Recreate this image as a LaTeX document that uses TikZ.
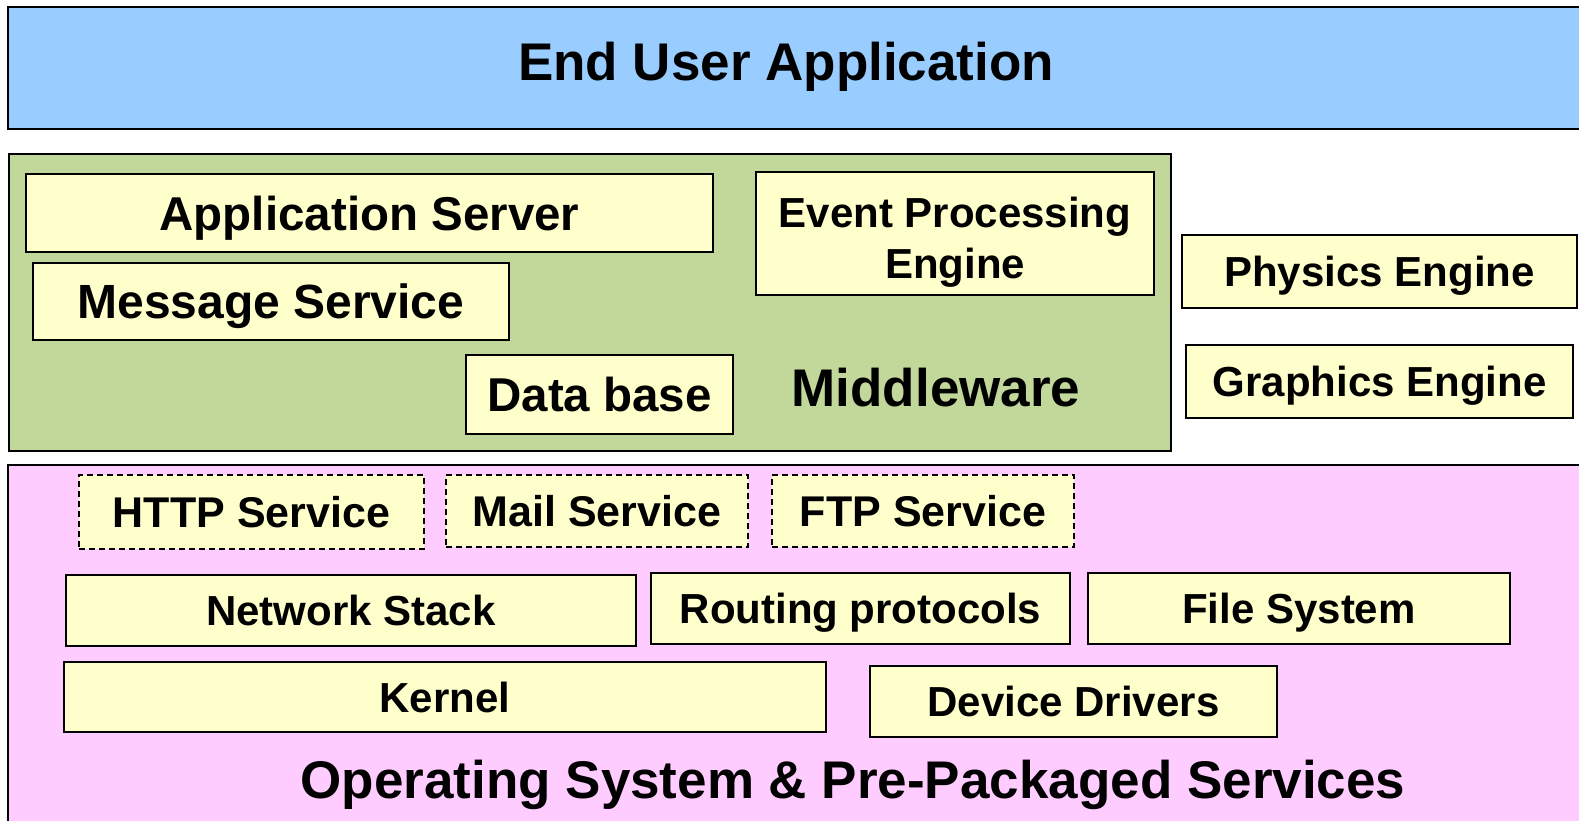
\documentclass[tikz,border=0pt]{standalone}
\usepackage{fontspec}
\setmainfont{Liberation Sans}
\definecolor{userblue}{HTML}{99CCFF}
\definecolor{midgreen}{HTML}{C2D89B}
\definecolor{ospink}{HTML}{FFCCFF}
\definecolor{boxyellow}{HTML}{FFFFCC}
\tikzset{
  layer/.style={draw=black, line width=2.5pt},
  % bold text of size #1; the text box spans only the cap height,
  % so the capitals sit centred in the node
  txt/.style={font=\bfseries\fontsize{#1}{#1}\selectfont,
    text height={0.72*#1pt}, text depth=0pt},
  comp/.style={draw=black, line width=2pt, fill=boxyellow, inner sep=0pt,
    align=center, txt=42},
  optcomp/.style={comp, dash pattern=on 6pt off 4pt, txt=43},
  title/.style={inner sep=0pt, txt=53},
}
\begin{document}
\begin{tikzpicture}[x=1pt, y=-1pt]
\useasboundingbox (0,0) rectangle (1579,821);
\begin{scope}
\clip (0,0) rectangle (1579,821);

% layers
\draw[layer, fill=userblue] (8,7) rectangle (1640,129);
\draw[layer, fill=midgreen] (9,154) rectangle (1171,451);
\draw[layer, fill=ospink] (8,465) rectangle (1640,850);

% layer titles
\node[title] (eua) at (786,61) {End User Application};
\node[title] (mw) at (936,387) {Middleware};
\node[title] (os) at (853,779) {Operating System \& Pre-Packaged Services};

% middleware components
\node[comp, minimum width=687, minimum height=78, txt=47.5] (appsrv) at (369.5,213) {Application Server};
\node[comp, minimum width=476, minimum height=77, txt=48] (msg) at (271,301.5) {Message Service};
% two lines: the box baseline is that of the last line
\node[comp, minimum width=398, minimum height=123, font=\bfseries\fontsize{42}{51}\selectfont,
      text height=89pt, text depth=0pt] (epe) at (955,233.5) {Event Processing\\Engine};
\node[comp, minimum width=267, minimum height=79, txt=47.5] (db) at (599.5,394.5) {Data base};

% engines
\node[comp, minimum width=395, minimum height=73] (phys) at (1379.5,271.5) {Physics Engine};
\node[comp, minimum width=387, minimum height=73] (gfx) at (1379.5,381.5) {Graphics Engine};

% optional services
\node[optcomp, minimum width=345, minimum height=74] (http) at (251.5,512) {HTTP Service};
\node[optcomp, minimum width=302, minimum height=72] (mail) at (597,511) {Mail Service};
\node[optcomp, minimum width=302, minimum height=72] (ftp) at (923,511) {FTP Service};

% operating system parts
\node[comp, minimum width=570, minimum height=71] (net) at (351,610.5) {Network Stack};
\node[comp, minimum width=419, minimum height=71] (route) at (860.5,608.5) {Routing protocols};
\node[comp, minimum width=422, minimum height=71] (fs) at (1299,608.5) {File System};
\node[comp, minimum width=762, minimum height=70] (kern) at (445,697) {Kernel};
\node[comp, minimum width=407, minimum height=71] (dev) at (1073.5,701.5) {Device Drivers};
\end{scope}
\end{tikzpicture}
\end{document}
